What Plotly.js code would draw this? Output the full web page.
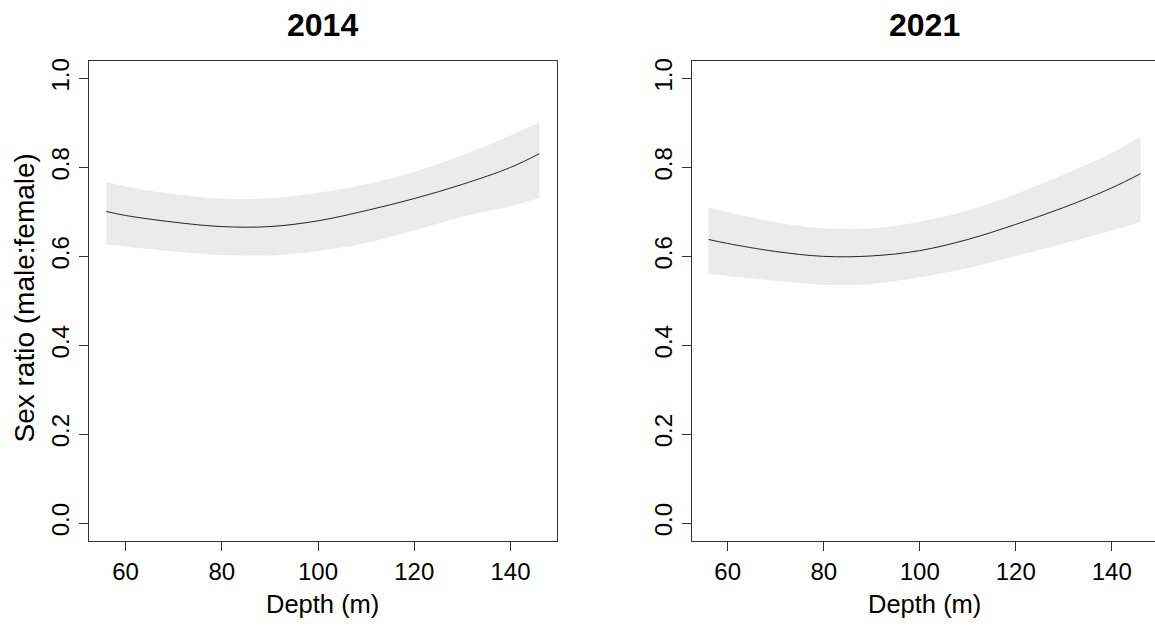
<!DOCTYPE html>
<html>
<head>
<meta charset="utf-8">
<script src="https://cdn.plot.ly/plotly-3.0.1.min.js"></script>
<style>html,body{margin:0;padding:0;background:#fff;}#chart{width:1155px;height:626px;}</style>
</head>
<body>
<div id="chart"></div>
<script>
// Depth grid (m)
const depth = [56, 60, 70, 80, 90, 100, 110, 120, 130, 140, 146];

// 2014
const fit2014   = [0.701, 0.692, 0.677, 0.667, 0.667, 0.680, 0.703, 0.730, 0.762, 0.800, 0.831];
const upper2014 = [0.767, 0.757, 0.740, 0.730, 0.731, 0.743, 0.762, 0.790, 0.828, 0.872, 0.901];
const lower2014 = [0.627, 0.622, 0.611, 0.603, 0.602, 0.612, 0.630, 0.658, 0.689, 0.713, 0.731];

// 2021
const fit2021   = [0.638, 0.629, 0.611, 0.600, 0.601, 0.613, 0.638, 0.672, 0.710, 0.754, 0.786];
const upper2021 = [0.710, 0.699, 0.677, 0.663, 0.663, 0.678, 0.703, 0.740, 0.784, 0.833, 0.869];
const lower2021 = [0.561, 0.556, 0.545, 0.536, 0.538, 0.553, 0.574, 0.601, 0.629, 0.658, 0.677];

const panelTitles = ['2014', '2021'];
const xTitle = 'Depth (m)';
const yTitle = 'Sex ratio (male:female)';
const yTicks = [0, 0.2, 0.4, 0.6, 0.8, 1.0];
const xTicks = [60, 80, 100, 120, 140];

const FONT = 'Liberation Sans, Arial, sans-serif';
const bandColor = '#ebebeb';

function bandTraces(up, lo, fit, xa, ya) {
  return [
    {x: depth, y: lo, type: 'scatter', mode: 'lines',
     line: {width: 0, color: bandColor, shape: 'spline'}, hoverinfo: 'skip', xaxis: xa, yaxis: ya, showlegend: false},
    {x: depth, y: up, type: 'scatter', mode: 'lines', fill: 'tonexty', fillcolor: bandColor,
     line: {width: 0, color: bandColor, shape: 'spline'}, hoverinfo: 'skip', xaxis: xa, yaxis: ya, showlegend: false},
    {x: depth, y: fit, type: 'scatter', mode: 'lines', line: {color: '#222', width: 1, shape: 'spline'},
     xaxis: xa, yaxis: ya, showlegend: false}
  ];
}

const data = [].concat(
  bandTraces(upper2014, lower2014, fit2014, 'x', 'y'),
  bandTraces(upper2021, lower2021, fit2021, 'x2', 'y2')
);

const W = 1155, H = 626;
const yDom = [1 - 541/H, 1 - 60.7/H];
const xDom1 = [89/W, 556.7/W];
const xDom2 = [691.7/W, 1];

function xAxis(dom, range, anchor) {
  return {domain: dom, range: range, anchor: anchor, tickvals: xTicks,
    showgrid: false, zeroline: false, showline: true, mirror: true, linecolor: '#333', linewidth: 1,
    ticks: 'outside', ticklen: 9, tickcolor: '#333', tickwidth: 1,
    tickfont: {family: FONT, size: 24, color: '#000'}, fixedrange: true};
}
function yAxis(anchor) {
  return {domain: yDom, range: [-0.04, 1.04], anchor: anchor, tickvals: yTicks, tickformat: '.1f',
    showgrid: false, zeroline: false, showline: true, mirror: true, linecolor: '#333', linewidth: 1,
    ticks: 'outside', ticklen: 9, tickcolor: '#333', tickwidth: 1, tickangle: -90,
    tickfont: {family: FONT, size: 24, color: '#000'}, fixedrange: true};
}

const cx1 = (xDom1[0] + xDom1[1]) / 2;
const cx2 = (691.7 + 1156.9) / 2 / W;

const annotations = [
  {text: '<b>' + panelTitles[0] + '</b>', x: cx1, y: 1 - 25/H, xref: 'paper', yref: 'paper', showarrow: false,
   xanchor: 'center', yanchor: 'middle', font: {family: FONT, size: 32, color: '#000'}},
  {text: '<b>' + panelTitles[1] + '</b>', x: cx2, y: 1 - 25/H, xref: 'paper', yref: 'paper', showarrow: false,
   xanchor: 'center', yanchor: 'middle', font: {family: FONT, size: 32, color: '#000'}},
  {text: xTitle, x: cx1, y: 1 - 604/H, xref: 'paper', yref: 'paper', showarrow: false,
   xanchor: 'center', yanchor: 'middle', font: {family: FONT, size: 25.5, color: '#000'}},
  {text: xTitle, x: cx2, y: 1 - 604/H, xref: 'paper', yref: 'paper', showarrow: false,
   xanchor: 'center', yanchor: 'middle', font: {family: FONT, size: 25.5, color: '#000'}},
  {text: yTitle, x: 24/W, y: 1 - 298.5/H, xref: 'paper', yref: 'paper', showarrow: false, textangle: -90,
   xanchor: 'center', yanchor: 'middle', font: {family: FONT, size: 28, color: '#000'}}
];

const layout = {
  width: W, height: H, margin: {l: 0, r: 0, t: 0, b: 0},
  paper_bgcolor: '#fff', plot_bgcolor: '#fff', showlegend: false,
  xaxis: xAxis(xDom1, [52.4, 149.6], 'y'),
  yaxis: yAxis('x'),
  xaxis2: xAxis(xDom2, [52.5, 149.0], 'y2'),
  yaxis2: yAxis('x2'),
  annotations: annotations
};

Plotly.newPlot('chart', data, layout, {displayModeBar: false, staticPlot: true});
</script>
</body>
</html>
